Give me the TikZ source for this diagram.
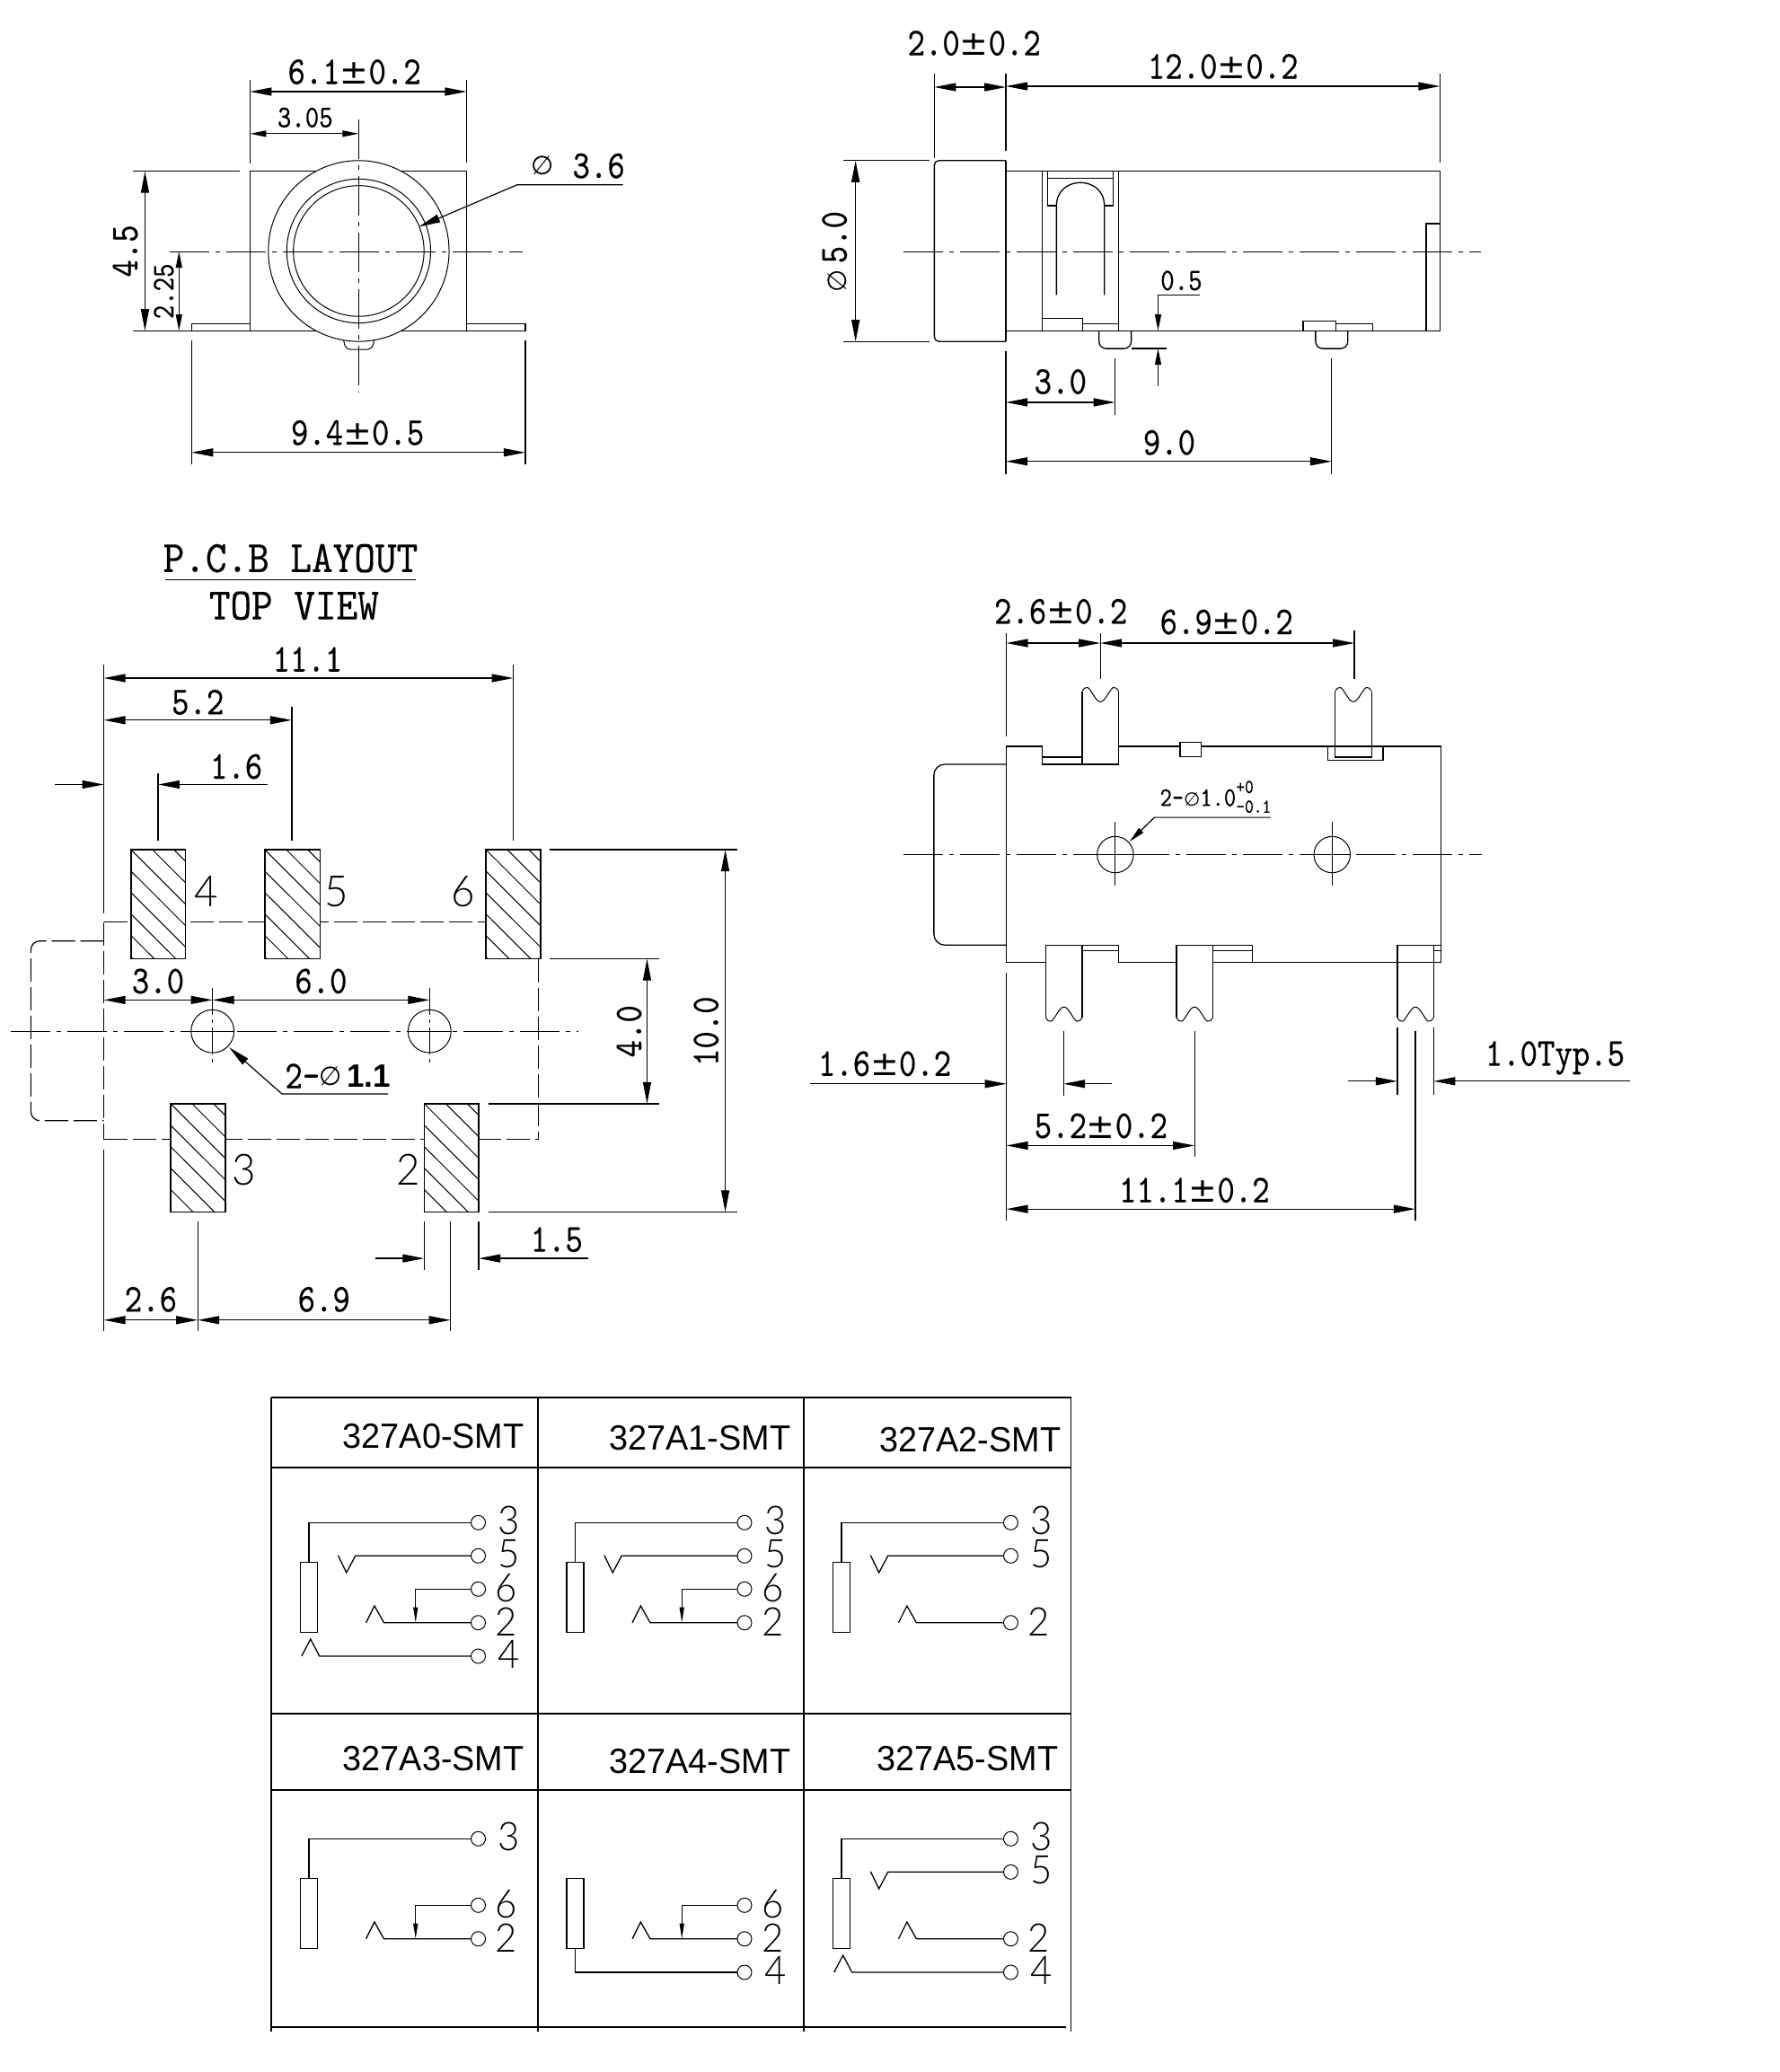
\documentclass[tikz,border=0pt]{standalone}
\usepackage{fontspec}
\usetikzlibrary{arrows.meta}
\newfontfamily\cad[FakeStretch=0.84,FakeBold=0.35]{lmmono10-regular.otf}
\newfontfamily\cadw[FakeStretch=0.9,FakeBold=0.35]{lmmono10-regular.otf}
\newfontfamily\thn[FakeStretch=0.95]{Lato Light}
\newfontfamily\dej{DejaVu Sans}
\newfontfamily\lib[FakeStretch=0.97]{Liberation Sans}
\newcommand{\pmm}{{\fontsize{38}{38}\dej ±}}
\tikzset{
  ln/.style={line width=1.3pt},
  thinl/.style={line width=1pt},
  tbl/.style={line width=1.8pt},
  ctr/.style={line width=1.1pt,dash pattern=on 44pt off 7pt on 5pt off 7pt},
  dsh/.style={line width=1.2pt,dash pattern=on 26pt off 6pt},
  big/.style={line width=1.2pt,>={Triangle[length=24pt,width=9pt]}},
  sml/.style={line width=1.2pt,>={Triangle[length=18pt,width=7pt]}},
  cadt/.style={inner sep=0pt,font={\fontsize{44}{44}\cad}},
  cadm/.style={inner sep=0pt,font={\fontsize{35}{35}\cad}},
  cads/.style={inner sep=0pt,font={\fontsize{30}{30}\cad}},
  titl/.style={inner sep=0pt,font={\fontsize{50}{50}\cadw}},
  numb/.style={inner sep=0pt,font={\fontsize{44}{44}\thn}},
  numl/.style={inner sep=0pt,font={\fontsize{48}{48}\thn}},
  lab/.style={inner sep=0pt,anchor=east,font={\fontsize{39}{39}\lib}},
  diam/.style={inner sep=0pt,font={\fontsize{29}{29}\dej}},
}
\newcommand{\Pad}[4]{%
  \fill[white] (#1,#2) rectangle (#3,#4);
  \begin{scope}
    \clip (#1,#2) rectangle (#3,#4);
    \foreach \k in {-6,...,3} \draw[thinl] (#1+\k*24,#2) -- ++(150,150);
  \end{scope}
  \draw[ln] (#1,#2) rectangle (#3,#4);}
\newcommand{\PinShape}{%
  (0,-4) .. controls (1,-1) and (4,0.5) .. (6,0) .. controls (10,-2) and (15,-16) .. (20.3,-16)
  .. controls (25.6,-16) and (30.6,-2) .. (34.6,0) .. controls (36.6,0.5) and (39.6,-1) .. (40.6,-4)}
\newcommand{\Jack}{\draw[ln] (334.8,1739.3) rectangle (353.7,1817.3);}
\newcommand{\CircA}[1]{\draw[thinl] (533.4,#1) circle (8);}
\newcommand{\LThree}{\draw[ln] (344.3,1739.3) |- (525.4,1695.3); \CircA{1695.3} \node[numb] at (568,1693.3) {3};}
\newcommand{\LFive}{\draw[ln] (525.4,1732.3) -- (396.1,1732.3) -- (386.1,1751) -- (376.7,1731.7); \CircA{1732.3} \node[numb] at (568,1730) {5};}
\newcommand{\LSix}{\draw[ln,-{Triangle[length=17pt,width=5pt]}] (525.4,1769.3) -| (463.4,1806.7); \CircA{1769.3} \node[numb] at (565,1768) {6};}
\newcommand{\LTwo}{\draw[ln] (525.4,1806.7) -- (428,1806.7) -- (417.4,1788) -- (408,1806.7); \CircA{1806.7} \node[numb] at (565,1806) {2};}
\newcommand{\LFour}{\draw[ln] (525.4,1844) -- (356,1844) -- (346,1825) -- (336,1844); \CircA{1844} \node[numb] at (568,1842) {4};}
\newcommand{\LFourB}{\draw[ln] (344.3,1817.3) |- (525.4,1844); \CircA{1844} \node[numb] at (568,1842) {4};}
\begin{document}
\begin{tikzpicture}[x=0.9965pt,y=-1pt]
\fill[white] (0,0) rectangle (1988,2307);
\useasboundingbox (0,0) rectangle (1988,2307);

\begin{scope}[shift={(0,100)},yscale=.997,shift={(0,-100)}]
% ===== VIEW 1 : front =====
\draw[ln] (279.4,369) -- (279.4,191) -- (521.3,191) -- (521.3,369);
\draw[ln] (149,369) -- (587,369) -- (587,361) -- (521.3,361);
\draw[ln] (214,369) -- (214,361) -- (279.4,361);
\draw[ln] (149,191) -- (268,191);
\draw[thinl,rounded corners=6pt] (382.6,372) -- (386,390) -- (416,390) -- (419.4,372);
\draw[thinl,fill=white] (400.8,280) circle (101);
\draw[thinl] (400.8,280) circle (80.4);
\draw[thinl] (400.8,280) circle (73);
\draw[ctr] (190,280.6) -- (584,280.6);
\draw[ctr] (400.8,133) -- (400.8,437);
\draw[ln] (279.4,89) -- (279.4,182);
\draw[ln] (521.3,89) -- (521.3,181);
\draw[ln] (214,380) -- (214,518);
\draw[ln] (587,380) -- (587,518);
\draw[big,<->] (279.4,102) -- (521.3,102);
\draw[sml,<->] (279.4,149) -- (400.8,149);
\draw[big,<->] (162,191) -- (162,369);
\draw[sml,<->] (200,280.6) -- (200,369);
\draw[big,<->] (214,505) -- (587,505);
\draw[big,->] (696,206) -- (578,206) -- (468,253);
\node[cadt] at (396,80) {6.1\pmm0.2};
\node[cadm] at (341,131) {3.05};
\node[cadt,rotate=90] at (140,280) {4.5};
\node[cadm,rotate=90] at (183,325) {2.25};
\node[cadt] at (399.5,483) {9.4\pmm0.5};
\node[diam] at (606,185) {∅};
\node[cadt] at (669,185) {3.6};

% ===== VIEW 2 : side =====
\begin{scope}[shift={(2.5,0)}]
\draw[ln,rounded corners=5pt] (1121.5,179) -- (1041.5,179) -- (1041.5,381) -- (1121.5,381);
\draw[ln] (1121.5,179) -- (1121.5,381);
\draw[ln] (1121.5,191) -- (1606.5,191) -- (1606.5,369) -- (1121.5,369);
\draw[ln] (1162,191) -- (1162,369);
\draw[ln] (1247.5,191) -- (1247.5,369);
\draw[ln] (1168,191) -- (1168,229.5) -- (1178,229.5);
\draw[ln] (1241.5,191) -- (1241.5,229.5) -- (1231.5,229.5);
\draw[ln] (1168,199) -- (1241.5,199);
\draw[ln] (1178,329) -- (1178,229.5) .. controls (1178,195) and (1231.5,195) .. (1231.5,229.5) -- (1231.5,329);
\draw[ln] (1162,355) rectangle (1207,369);
\draw[ln] (1207,361) rectangle (1247.5,369);
\draw[ln,rounded corners=8pt] (1225.5,369) -- (1225.5,389) -- (1261.5,389) -- (1261.5,369);
\draw[ln,rounded corners=8pt] (1467.5,369) -- (1467.5,389) -- (1503.5,389) -- (1503.5,369);
\draw[ln] (1453.5,358) rectangle (1490,369);
\draw[ln] (1490,361) rectangle (1531,369);
\draw[ln] (1591,369) -- (1591,249.5) -- (1606.5,249.5);
\draw[ctr] (1007,280.6) -- (1652,280.6);
\draw[ln] (940,179) -- (1036,179);
\draw[ln] (940,381) -- (1036,381);
\draw[big,<->] (953.5,179) -- (953.5,381);
\draw[ln] (1041.5,82) -- (1041.5,176);
\draw[ln] (1121.5,82) -- (1121.5,168.5);
\draw[ln] (1606.5,82) -- (1606.5,181);
\draw[big,<->] (1041.5,97) -- (1121.5,97);
\draw[big,<->] (1121.5,96) -- (1606.5,96);
\draw[ln] (1121.5,392) -- (1121.5,529);
\draw[ln] (1243.5,400) -- (1243.5,463);
\draw[ln] (1485.5,400) -- (1485.5,529);
\draw[big,<->] (1121.5,449) -- (1243.5,449);
\draw[big,<->] (1121.5,515) -- (1485.5,515);
\draw[ln] (1261.5,389) -- (1301.5,389);
\draw[sml,->] (1338.5,329) -- (1291.5,329) -- (1291.5,369);
\draw[sml,->] (1291.5,431) -- (1291.5,389);
\node[cadt,rotate=90] at (930,281) {{\fontsize{29}{29}\dej ∅}\,5.0};
\node[cadt] at (1086,48) {2.0\pmm0.2};
\node[cadt] at (1364,74) {12.0\pmm0.2};
\node[cadt] at (1182.5,426) {3.0};
\node[cadt] at (1304,494) {9.0};
\node[cadm] at (1317.5,313) {0.5};
\end{scope}
\end{scope}

\begin{scope}[shift={(0,755)},yscale=.9955,shift={(0,-755)}]
% ===== PCB LAYOUT =====
\node[titl] at (324.6,621) {P.C.B LAYOUT};
\draw[ln] (185,645) -- (465,645);
\node[titl] at (328.5,674) {TOP VIEW};
\draw[dsh] (116,1028) -- (601.5,1028);
\draw[dsh] (116,1271) -- (601.5,1271);
\draw[dsh] (601.5,1069) -- (601.5,1271);
\draw[dsh] (116,1028) -- (116,1271);
\draw[dsh,rounded corners=10pt] (116,1049) -- (34.5,1049) -- (34.5,1250) -- (116,1250);
\Pad{146.5}{947}{207}{1069}
\Pad{296}{947}{357.5}{1069}
\Pad{543}{947}{604}{1069}
\Pad{190.6}{1231}{252}{1352}
\Pad{474}{1231}{535}{1352}
\draw[ctr] (12,1150) -- (646,1150);
\draw[thinl,fill=white] (237.5,1150) circle (24);
\draw[thinl,fill=white] (480,1150) circle (24);
\draw[thinl] (213,1150) -- (262,1150);
\draw[thinl] (456,1150) -- (505,1150);
\draw[thinl,dash pattern=on 30pt off 5pt on 4pt off 5pt] (237.5,1102) -- (237.5,1186);
\draw[thinl,dash pattern=on 30pt off 5pt on 4pt off 5pt] (480,1102) -- (480,1186);
\draw[ln] (116,740) -- (116,1018);
\draw[ln] (116,1282) -- (116,1485);
\draw[ln] (573.5,740) -- (573.5,937);
\draw[ln] (326,787.5) -- (326,937);
\draw[ln] (176.6,861) -- (176.6,937);
\draw[ln] (614,947) -- (824,947);
\draw[ln] (545.5,1352) -- (824,1352);
\draw[ln] (614,1069) -- (737,1069);
\draw[ln] (545.5,1231) -- (737,1231);
\draw[ln] (474,1363) -- (474,1417);
\draw[ln] (535,1363) -- (535,1417);
\draw[ln] (503.5,1363) -- (503.5,1485);
\draw[ln] (221,1363) -- (221,1485);
\draw[big,<->] (116,755) -- (573.5,755);
\draw[big,<->] (116,802) -- (326,802);
\draw[big,->] (61,874) -- (116,874);
\draw[big,->] (299,874) -- (176.6,874);
\draw[big,<->] (116,1115) -- (237.5,1115);
\draw[big,<->] (237.5,1115) -- (480,1115);
\draw[big,<->] (810.4,947) -- (810.4,1352);
\draw[big,<->] (723,1069) -- (723,1231);
\draw[big,->] (419,1404) -- (474,1404);
\draw[big,->] (657,1404) -- (535,1404);
\draw[big,<->] (116,1473) -- (221,1473);
\draw[big,<->] (221,1473) -- (503.5,1473);
\draw[big,->] (433.5,1220) -- (315,1220) -- (256,1168);
\node[cadt] at (343.6,734) {11.1};
\node[cadt] at (221,782) {5.2};
\node[cadt] at (264,854) {1.6};
\node[cadt] at (176.6,1094) {3.0};
\node[cadt] at (358.6,1094) {6.0};
\node[cadt,rotate=90] at (789,1150) {10.0};
\node[cadt,rotate=90] at (703,1150) {4.0};
\node[cadt] at (622,1383) {1.5};
\node[cadt] at (168.5,1450) {2.6};
\node[cadt] at (362,1450) {6.9};
\node[cadt] at (338,1200) {2-};
\node[diam] at (369,1200) {∅};
\node[inner sep=0pt,font={\fontsize{36}{36}\lib\bfseries}] at (412,1200) {1.1};
\node[numl] at (230.5,994) {4};
\node[numl] at (376,994) {5};
\node[numl] at (518,994) {6};
\node[numl] at (273,1305) {3};
\node[numl] at (456,1305) {2};
\end{scope}

\begin{scope}[shift={(2.5,716)},yscale=.9955,shift={(0,-716)}]
% ===== VIEW 4 : bottom =====
\draw[ln,rounded corners=12pt] (1122,851.6) -- (1041,851.6) -- (1041,1053.7) -- (1122,1053.7);
\draw[ln] (1166,1073) -- (1122,1073) -- (1122,831.6) -- (1162,831.6) -- (1162,851.6) -- (1247.4,851.6) -- (1247.4,831.6) -- (1607.4,831.6) -- (1607.4,1073) -- (1558.8,1073);
\draw[ln] (1162,843.5) -- (1206.8,843.5);
\draw[ln] (1206.8,851.6) -- (1206.8,770);
\draw[ln] (1247.4,831.6) -- (1247.4,770);
\begin{scope}[shift={(1206.8,765.7)},yscale=-1]
  \draw[thinl] \PinShape;
\end{scope}
\begin{scope}[shift={(1489.4,765.7)},yscale=-1]
  \draw[thinl] \PinShape;
\end{scope}
\draw[ln] (1489.4,770) -- (1489.4,843.5) -- (1530,843.5) -- (1530,770);
\draw[ln] (1481,831.6) -- (1481,847) -- (1542.8,847) -- (1542.8,831.6);
\draw[ln,fill=white] (1316,827) rectangle (1340,843);
\draw[ln] (1166,1053.7) -- (1247.4,1053.7) -- (1247.4,1073) -- (1312,1073);
\draw[ln] (1207,1060) -- (1247.4,1060);
\draw[ln] (1312,1053.7) -- (1397,1053.7) -- (1397,1073) -- (1352.6,1073);
\draw[ln] (1352.6,1060) -- (1397,1060);
\draw[ln] (1397,1073) -- (1558.8,1073);
\draw[ln] (1558.8,1053.7) -- (1607.4,1053.7);
\draw[ln] (1599.4,1060) -- (1607.4,1060);
\foreach \px in {1166,1312,1558.8}{
  \draw[ln] (\px,1053.7) -- (\px,1135);
  \draw[ln] (\px+40.6,1053.7) -- (\px+40.6,1135);
  \begin{scope}[shift={(\px,1139)}]
    \draw[thinl] \PinShape;
  \end{scope}
}
\draw[ctr] (1007,952.6) -- (1653.5,952.6);
\draw[thinl,fill=white] (1243.7,952.6) circle (20.3);
\draw[thinl,fill=white] (1486,952.6) circle (20.3);
\draw[thinl] (1223.4,952.6) -- (1264,952.6);
\draw[thinl] (1465.7,952.6) -- (1506.3,952.6);
\draw[thinl] (1243.7,916) -- (1243.7,987);
\draw[thinl] (1486,916) -- (1486,987);
\draw[sml,->] (1417,911) -- (1287.4,911) -- (1259.7,938);
\node[inner sep=0pt,anchor=west,font={\fontsize{30}{30}\cad}] at (1293.5,889) {2-{\fontsize{21}{21}\dej ∅}1.0};
\node[inner sep=0pt,anchor=west,font={\fontsize{22}{22}\cad}] at (1378.5,877) {+0};
\node[inner sep=0pt,anchor=west,font={\fontsize{22}{22}\cad}] at (1378.5,899) {-0.1};
\draw[ln] (1122,705) -- (1122,820);
\draw[ln] (1227,705) -- (1227,756);
\draw[ln] (1510.8,701.7) -- (1510.8,756);
\draw[ln] (1122,1084.5) -- (1122,1362);
\draw[ln] (1185.8,1149.5) -- (1185.8,1222.5);
\draw[ln] (1332.3,1149.5) -- (1332.3,1291);
\draw[ln] (1579,1149.5) -- (1579,1362);
\draw[ln] (1558.8,1145.7) -- (1558.8,1221);
\draw[ln] (1599.4,1145.7) -- (1599.4,1221);
\draw[big,<->] (1122,716) -- (1227,716);
\draw[big,<->] (1227,716) -- (1510.8,716);
\draw[big,->] (903,1209) -- (1122,1209);
\draw[big,->] (1240,1209) -- (1185.8,1209);
\draw[big,<->] (1122,1278) -- (1332.3,1278);
\draw[big,<->] (1122,1349) -- (1579,1349);
\draw[big,->] (1504,1206) -- (1558.8,1206);
\draw[big,->] (1818.5,1206) -- (1599.4,1206);
\node[cadt] at (1182.8,680.7) {2.6\pmm0.2};
\node[cadt] at (1368,692.5) {6.9\pmm0.2};
\node[cadt] at (986,1186.5) {1.6\pmm0.2};
\node[cadt] at (1227.7,1256) {5.2\pmm0.2};
\node[cadt] at (1332,1328) {11.1\pmm0.2};
\node[cadt] at (1735,1180) {1.0Typ.5};
\end{scope}

% ===== TABLE =====
\begin{scope}[shift={(1,0)}]
\draw[tbl] (302.4,1556.3) -- (1195.7,1556.3);
\draw[tbl] (302.4,1634.3) -- (1195.7,1634.3);
\draw[tbl] (302.4,1908.3) -- (1195.7,1908.3);
\draw[tbl] (302.4,1993.3) -- (1195.7,1993.3);
\draw[tbl] (302.4,2257.3) -- (1190,2257.3);
\foreach \cx in {302.4,600,897.3,1195.7} \draw[tbl] (\cx,1556.3) -- (\cx,2261.7);
\node[lab] at (584.8,1599.3) {327A0-SMT};
\node[lab] at (882.6,1600.7) {327A1-SMT};
\node[lab] at (1184.5,1603.3) {327A2-SMT};
\node[lab] at (584.8,1958.3) {327A3-SMT};
\node[lab] at (882.6,1960.7) {327A4-SMT};
\node[lab] at (1181.5,1958.3) {327A5-SMT};
\begin{scope}
  \Jack \LThree \LFive \LSix \LTwo \LFour
\end{scope}
\begin{scope}[shift={(297.5,0)}]
  \Jack \LThree \LFive \LSix \LTwo
\end{scope}
\begin{scope}[shift={(595,0)}]
  \Jack \LThree \LFive \LTwo
\end{scope}
\begin{scope}[shift={(0,352)}]
  \Jack \LThree \LSix \LTwo
\end{scope}
\begin{scope}[shift={(297.5,352)}]
  \Jack \LSix \LTwo \LFourB
\end{scope}
\begin{scope}[shift={(595,352)}]
  \Jack \LThree \LFive \LTwo \LFour
\end{scope}
\end{scope}
\end{tikzpicture}
\end{document}
